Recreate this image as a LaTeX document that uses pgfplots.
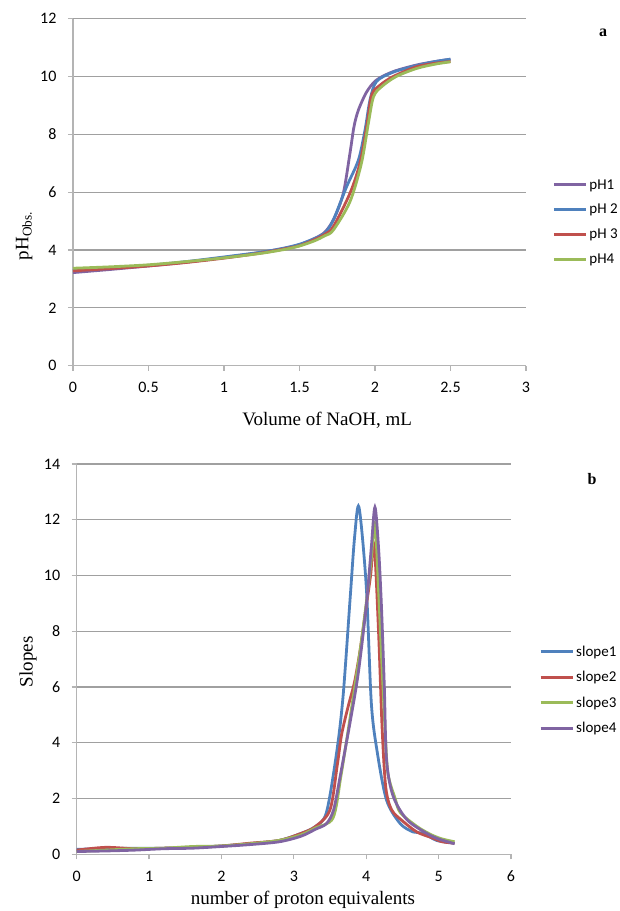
\documentclass[border=0pt]{standalone}
\usepackage{pgfplots}
\pgfplotsset{compat=1.18}
\usepackage{fontspec}
\setmainfont{Liberation Serif}
\newfontfamily\calibri{Carlito}

\definecolor{xblue}{HTML}{4F81BD}
\definecolor{xred}{HTML}{C0504D}
\definecolor{xgreen}{HTML}{9BBB59}
\definecolor{xpurple}{HTML}{8064A2}
\definecolor{gridc}{HTML}{A0A0A0}
\definecolor{axisc}{HTML}{B4B4B4}

\pgfplotsset{
  xlstyle/.style={
    scale only axis,
    axis lines*=left,
    axis line style={axisc, line width=1.2pt},
    tick align=outside,
    major tick length=5pt,
    tick style={axisc, line width=1.2pt},
    ymajorgrids=true,
    grid style={gridc, line width=1.2pt},
    ticklabel style={font=\calibri\fontsize{16}{19}\selectfont},
    xticklabel style={yshift=-8pt},
    yticklabel style={xshift=-8pt},
    /pgf/number format/assume math mode=true,
    label style={font=\fontsize{19}{22}\selectfont},
    legend style={draw=none, fill=none, inner sep=0pt,
      font=\calibri\fontsize{15}{18}\selectfont, row sep=9.5pt,
      /tikz/every even column/.append style={column sep=0pt}},
    legend cell align=left,
    legend image code/.code={\draw[#1, line width=3pt] (0pt,0pt) -- (32pt,0pt);},
    every axis plot/.append style={line width=2.8pt, smooth, tension=0.5, no markers},
  }
}

\begin{document}
\begin{tikzpicture}
\path[use as bounding box] (0,0) rectangle (620pt,-911pt);

% ---- (a) titration curves ----
\begin{axis}[
  xlstyle,
  at={(73pt,-365.7pt)}, anchor=south west,
  width=453pt, height=347pt,
  xmin=0, xmax=3, ymin=0, ymax=12,
  xtick={0,0.5,1,1.5,2,2.5,3},
  ytick={0,2,4,6,8,10,12},
  xlabel={Volume of NaOH, mL},
  xlabel style={at={(axis description cs:0.561,-0.156)}, anchor=center},
  ylabel={pH\textsubscript{Obs.}},
  ylabel style={at={(axis description cs:-0.108,0.374)}, anchor=center, rotate=0},
  legend style={at={(axis description cs:1.058,0.414)}, anchor=west},
]
\addplot[xpurple] coordinates {
 (0,3.22) (0.25,3.33) (0.5,3.45) (0.75,3.58) (1.0,3.74) (1.25,3.92) (1.4,4.06)
 (1.5,4.18) (1.6,4.40) (1.67,4.63) (1.73,5.1) (1.79,5.96) (1.834,7.34)
 (1.861,8.27) (1.89,8.84) (1.945,9.47) (2.01,9.88) (2.12,10.17) (2.276,10.4)
 (2.4,10.52) (2.5,10.6)};
\addplot[xblue] coordinates {
 (0,3.30) (0.25,3.38) (0.5,3.47) (0.75,3.6) (1.0,3.76) (1.25,3.93) (1.4,4.07)
 (1.5,4.2) (1.6,4.40) (1.67,4.6) (1.724,5.04) (1.812,6.19) (1.89,7.11)
 (1.934,8.15) (1.967,9.19) (2.01,9.83) (2.12,10.15) (2.276,10.38) (2.4,10.52)
 (2.5,10.6)};
\addplot[xred] coordinates {
 (0,3.28) (0.25,3.36) (0.5,3.45) (0.75,3.57) (1.0,3.72) (1.25,3.9) (1.4,4.04)
 (1.5,4.15) (1.6,4.36) (1.67,4.55) (1.724,4.81) (1.834,5.96) (1.9,7.0)
 (1.945,8.27) (1.978,9.36) (2.033,9.7) (2.12,10.0) (2.276,10.34) (2.4,10.46)
 (2.5,10.52)};
\addplot[xgreen] coordinates {
 (0,3.37) (0.25,3.42) (0.5,3.49) (0.75,3.6) (1.0,3.73) (1.25,3.89) (1.4,4.02)
 (1.5,4.14) (1.6,4.32) (1.67,4.5) (1.724,4.69) (1.834,5.67) (1.91,7.0)
 (1.956,8.38) (1.99,9.3) (2.044,9.65) (2.14,10.0) (2.276,10.28) (2.4,10.43)
 (2.5,10.51)};
\legend{pH1, pH 2, pH 3, pH4}
\end{axis}
\node[font=\bfseries\fontsize{16}{18}\selectfont] at (603pt,-33pt) {a};

% ---- (b) slopes ----
\begin{axis}[
  xlstyle,
  at={(76.7pt,-854.3pt)}, anchor=south west,
  width=434.3pt, height=390.3pt,
  xmin=0, xmax=6, ymin=0, ymax=14,
  xtick={0,1,2,3,4,5,6},
  ytick={0,2,4,6,8,10,12,14},
  xlabel={number of proton equivalents},
  xlabel style={at={(axis description cs:0.521,-0.117)}, anchor=center},
  ylabel={Slopes},
  ylabel style={at={(axis description cs:-0.112,0.493)}, anchor=center},
  legend style={at={(axis description cs:1.0645,0.421)}, anchor=west},
]
\addplot[xblue] coordinates {
 (0,0.18) (0.4,0.2) (0.8,0.22) (1.2,0.22) (1.6,0.25) (2.0,0.3) (2.4,0.38)
 (2.8,0.5) (3.1,0.75) (3.3,1.0) (3.45,1.5) (3.59,3.63) (3.68,5.67) (3.78,9.27)
 (3.84,11.4) (3.9,12.45) (4.0,9.63) (4.07,5.44) (4.15,3.7) (4.28,1.95)
 (4.47,1.1) (4.65,0.8) (4.79,0.76) (4.97,0.5) (5.22,0.4)};
\addplot[xred] coordinates {
 (0,0.15) (0.4,0.25) (0.8,0.2) (1.2,0.22) (1.6,0.25) (2.0,0.3) (2.4,0.4)
 (2.8,0.5) (3.1,0.75) (3.3,1.0) (3.5,1.6) (3.6,3.2) (3.66,4.3) (3.75,5.3)
 (3.84,6.2) (3.92,7.4) (4.0,8.9) (4.06,10.0) (4.11,11.1) (4.17,8.0)
 (4.22,4.5) (4.27,2.4) (4.35,1.6) (4.5,1.2) (4.7,0.8) (4.9,0.6) (5.05,0.45)
 (5.22,0.4)};
\addplot[xgreen] coordinates {
 (0,0.1) (0.4,0.15) (0.8,0.2) (1.2,0.22) (1.6,0.28) (2.0,0.3) (2.4,0.38)
 (2.8,0.5) (3.1,0.7) (3.3,0.95) (3.54,1.3) (3.65,2.8) (3.78,4.95) (3.91,7.2)
 (4.0,9.0) (4.07,10.6) (4.12,11.9) (4.17,9.5) (4.21,7.2) (4.26,4.5) (4.3,2.9)
 (4.4,2.0) (4.47,1.5) (4.7,1.0) (4.9,0.7) (5.05,0.55) (5.22,0.45)};
\addplot[xpurple] coordinates {
 (0,0.1) (0.4,0.12) (0.8,0.15) (1.2,0.2) (1.6,0.22) (2.0,0.28) (2.4,0.35)
 (2.8,0.45) (3.1,0.65) (3.3,0.9) (3.45,1.1) (3.55,1.6) (3.64,2.8) (3.78,4.78)
 (3.89,6.5) (4.0,8.9) (4.07,11.0) (4.12,12.45) (4.17,11.0) (4.21,8.9)
 (4.25,6.0) (4.28,3.4) (4.37,2.1) (4.56,1.25) (4.83,0.76) (5.0,0.55)
 (5.22,0.38)};
\legend{slope1, slope2, slope3, slope4}
\end{axis}
\node[font=\bfseries\fontsize{16}{18}\selectfont] at (592pt,-479pt) {b};

\end{tikzpicture}
\end{document}
